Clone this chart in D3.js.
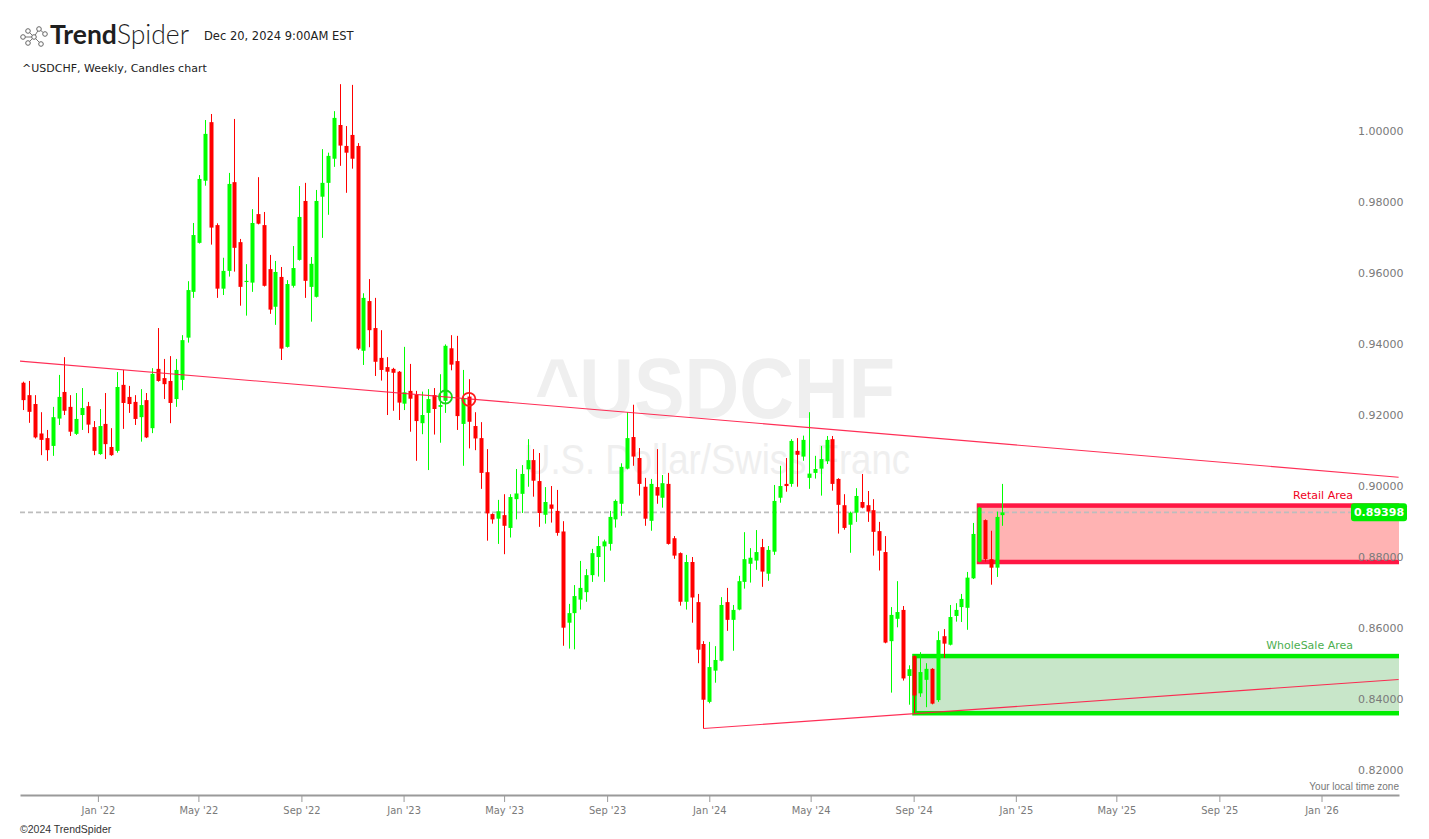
<!DOCTYPE html>
<html><head><meta charset="utf-8">
<script src="https://cdn.jsdelivr.net/npm/d3@7"></script>
<style>body{margin:0;background:#fff;} svg{display:block;}</style>
</head><body>
<svg id="chart" width="1429" height="839"></svg>
<script>
// ---------- DATA ----------
const firstWeek = "2021-10-04"; // weekly candles, one per week from this Monday
const openP = [.9305,.9270,.9245,.9162,.9149,.9127,.9204,.9279,.9237,.9161,
.9214,.9239,.9180,.9104,.9189,.9124,.9113,.9299,.9265,.9251,
.9208,.9256,.9177,.9344,.9318,.9310,.9259,.9313,.9432,.9561,
.9699,.9874,1.0039,.9749,.9570,.9620,.9870,.9701,.9589,.9587,
.9780,.9749,.9625,.9519,.9603,.9406,.9578,.9651,.9817,.9575,
.9547,.9829,.9868,.9936,1.0031,.9972,1.0003,.9972,.9395,.9535,
.9459,.9375,.9349,.9344,.9336,.9246,.9282,.9271,.9191,.9220,
.9270,.9237,.9254,.9402,.9366,.9189,.9266,.9183,.9149,.9053,
.8935,.8922,.8932,.8896,.8977,.8992,.9061,.9087,.9028,.8933,
.8962,.8944,.8886,.8629,.8656,.8694,.8715,.8763,.8814,.8844,
.8851,.8920,.8964,.9063,.9152,.9093,.9012,.8916,.9011,.8981,
.9020,.8867,.8825,.8688,.8800,.8687,.8569,.8406,.8494,.8522,
.8687,.8637,.8666,.8744,.8795,.8804,.8842,.8767,.8829,.8981,
.9020,.9020,.9113,.9097,.9037,.9051,.9063,.9084,.9146,.9034,
.8960,.8905,.8939,.8969,.8960,.8946,.8887,.8828,.8577,.8640,
.8665,.8479,.8535,.8430,.8468,.8499,.8411,.8591,.8567,.8648,
.8673,.8671,.8754,.8801,.8918,.8808,.8784,.8932];
const highP = [.9308,.9310,.9270,.9222,.9172,.9237,.9327,.9377,.9270,.9276,
.9290,.9251,.9197,.9231,.9276,.9177,.9335,.9341,.9296,.9270,
.9287,.9276,.9346,.9459,.9372,.9380,.9372,.9439,.9591,.9755,
.9890,1.0045,1.0062,.9754,.9657,.9896,1.0048,.9710,.9639,.9794,
.9884,.9786,.9665,.9648,.9631,.9594,.9690,.9859,.9868,.9659,
.9848,.9963,.9953,1.0070,1.0146,1.0028,1.0144,.9980,.9557,.9597,
.9544,.9453,.9377,.9347,.9338,.9406,.9358,.9282,.9280,.9287,
.9290,.9329,.9413,.9439,.9437,.9341,.9315,.9222,.9194,.9118,
.8937,.8975,.8991,.8991,.9062,.9073,.9146,.9118,.9107,.9011,
.9014,.9003,.8915,.8682,.8735,.8803,.8780,.8837,.8873,.8863,
.8944,.8976,.9078,.9222,.9243,.9121,.9037,.9034,.9118,.9045,
.9051,.8873,.8827,.8820,.8814,.8710,.8577,.8575,.8563,.8701,
.8727,.8679,.8761,.8884,.8839,.8890,.8865,.8845,.9017,.9071,
.9093,.9146,.9149,.9156,.9222,.9099,.9127,.9155,.9155,.9036,
.8991,.8942,.9008,.9048,.9000,.8977,.8913,.8873,.8673,.8746,
.8676,.8509,.8537,.8546,.8515,.8501,.8605,.8611,.8679,.8684,
.8710,.8772,.8910,.8955,.8920,.8888,.8942,.9020];
const lowP = [.9228,.9192,.9148,.9101,.9085,.9099,.9186,.9214,.9155,.9158,
.9172,.9163,.9101,.9102,.9090,.9099,.9108,.9175,.9220,.9186,
.9139,.9149,.9163,.9308,.9259,.9191,.9237,.9284,.9418,.9544,
.9697,.9860,.9694,.9544,.9552,.9604,.9618,.9522,.9494,.9561,
.9751,.9576,.9499,.9468,.9369,.9404,.9573,.9649,.9544,.9477,
.9545,.9713,.9778,.9913,.9916,.9840,.9908,.9397,.9355,.9405,
.9324,.9311,.9214,.9226,.9200,.9228,.9167,.9085,.9160,.9059,
.9159,.9136,.9220,.9340,.9172,.9071,.9120,.9115,.9006,.8860,
.8908,.8851,.8822,.8869,.8920,.8938,.9012,.8984,.8899,.8908,
.8911,.8874,.8564,.8556,.8554,.8666,.8688,.8744,.8759,.8744,
.8832,.8897,.8930,.9061,.9071,.8987,.8902,.8888,.8964,.8953,
.8849,.8809,.8677,.8666,.8629,.8515,.8331,.8402,.8460,.8520,
.8606,.8550,.8664,.8725,.8742,.8778,.8730,.8747,.8820,.8967,
.8998,.9012,.9012,.9085,.9006,.9035,.8987,.9076,.9001,.8880,
.8891,.8826,.8913,.8951,.8913,.8818,.8776,.8571,.8432,.8616,
.8466,.8398,.8374,.8420,.8391,.8399,.8406,.8530,.8565,.8632,
.8631,.8609,.8752,.8799,.8801,.8736,.8758,.8902];
const closeP = [.9256,.9223,.9151,.9144,.9115,.9208,.9265,.9226,.9167,.9203,
.9234,.9187,.9113,.9183,.9132,.9101,.9293,.9248,.9245,.9203,
.9242,.9151,.9330,.9310,.9301,.9248,.9341,.9425,.9566,.9721,
.9879,1.0006,.9742,.9570,.9620,.9865,.9685,.9575,.9592,.9755,
.9753,.9578,.9511,.9617,.9401,.9583,.9628,.9772,.9592,.9640,
.9817,.9868,.9944,1.0051,.9973,.9953,.9936,.9401,.9544,.9453,
.9364,.9341,.9336,.9333,.9249,.9278,.9260,.9197,.9214,.9259,
.9231,.9242,.9409,.9356,.9211,.9261,.9195,.9148,.9051,.8937,
.8920,.8943,.8902,.8983,.8993,.9048,.9087,.9029,.8938,.8969,
.8950,.8882,.8615,.8656,.8704,.8727,.8763,.8825,.8845,.8858,
.8927,.8972,.9068,.9149,.9097,.9020,.8922,.9020,.8987,.9022,
.8851,.8818,.8688,.8800,.8700,.8553,.8412,.8504,.8524,.8679,
.8637,.8665,.8746,.8808,.8812,.8828,.8773,.8834,.8972,.9014,
.9014,.9141,.9102,.9144,.9049,.9062,.9090,.9144,.9020,.8961,
.8896,.8939,.8986,.8953,.8942,.8885,.8832,.8573,.8651,.8659,
.8472,.8498,.8424,.8490,.8499,.8401,.8580,.8570,.8645,.8665,
.8696,.8756,.8879,.8953,.8808,.8784,.8927,.89398];

const yTickValues = [0.82,0.84,0.86,0.88,0.90,0.92,0.94,0.96,0.98,1.00];
const lastPrice = 0.89398;
const resistanceLine = [{date:"2021-09-30", value:0.93659},{date:"2026-04-03", value:0.90389}];
const supportLine = [{date:"2023-12-25", value:0.8331},{date:"2026-04-03", value:0.8469}];
const signals = [{date:"2023-02-20", value:0.92648, color:"#19d419"},{date:"2023-03-20", value:0.92583, color:"#ff1a1a"}];
const zones = [
  {name:"Retail Area", start:"2024-11-18", top:0.8959, bottom:0.8800, stroke:"#ff1744", fill:"#ffb3b3", labelColor:"#f0001c"},
  {name:"WholeSale Area", start:"2024-09-02", top:0.8535, bottom:0.8374, stroke:"#00ee00", fill:"#c8e6c9", labelColor:"#4caf50"}
];
const xDomain = ["2021-09-30", "2026-04-03"];

// ---------- CHART ----------
const parse = d3.utcParse("%Y-%m-%d");
const svg = d3.select("#chart");
const L = 20, R = 1399, T = 80, B = 795;

const x = d3.scaleUtc().domain([parse(xDomain[0]), d3.utcHour.offset(parse(xDomain[1]), 12)]).range([L, R]);
const y = d3.scaleLinear().domain([0.82, 1.0]).range([775, 136]);

const start = parse(firstWeek);
const candles = openP.map((o, i) => ({
  date: d3.utcDay.offset(start, 7 * i), open: o, high: highP[i], low: lowP[i], close: closeP[i]
}));

svg.append("defs").append("clipPath").attr("id", "plotclip")
  .append("rect").attr("x", L).attr("y", T).attr("width", R - L).attr("height", B - T);

// watermark
const wm = svg.append("g").attr("fill", "#efefef");
wm.append("text").attr("x", 715).attr("y", 418).attr("text-anchor", "middle")
  .attr("font-family", "Liberation Sans, Arial, sans-serif").attr("font-weight", "bold").attr("font-size", 86)
  .attr("textLength", 360).attr("lengthAdjust", "spacingAndGlyphs").text("^USDCHF");
wm.append("text").attr("x", 717).attr("y", 474).attr("text-anchor", "middle")
  .attr("font-family", "Liberation Sans, Arial, sans-serif").attr("font-size", 42)
  .attr("textLength", 386).attr("lengthAdjust", "spacingAndGlyphs").text("U.S. Dollar/Swiss Franc");

const plot = svg.append("g").attr("clip-path", "url(#plotclip)");

// zones
zones.forEach(z => {
  const x0 = x(parse(z.start));
  plot.append("rect").attr("x", x0).attr("y", y(z.top)).attr("width", R + 20 - x0)
    .attr("height", y(z.bottom) - y(z.top)).attr("fill", z.fill)
    .attr("stroke", z.stroke).attr("stroke-width", 4.5);
  svg.append("text").attr("x", 1353).attr("y", y(z.top) - 7).attr("text-anchor", "end")
    .attr("font-family", "DejaVu Sans, sans-serif").attr("font-size", 11).attr("fill", z.labelColor).text(z.name);
});

// last price dashed line
plot.append("line").attr("x1", L).attr("x2", 1351).attr("y1", y(lastPrice)).attr("y2", y(lastPrice))
  .attr("stroke", "#bdbdbd").attr("stroke-width", 1.6).attr("stroke-dasharray", "5,3");

// candles
const cg = plot.append("g");
const up = "#00ff00", down = "#ff0000";
cg.selectAll("line.wick").data(candles).join("line").attr("class", "wick")
  .attr("x1", d => Math.round(x(d.date)) + 0.5).attr("x2", d => Math.round(x(d.date)) + 0.5)
  .attr("y1", d => y(d.high)).attr("y2", d => y(d.low))
  .attr("stroke", d => d.close >= d.open ? up : down).attr("stroke-width", 1);
cg.selectAll("rect.body").data(candles).join("rect").attr("class", "body")
  .attr("x", d => Math.round(x(d.date)) - 1.5).attr("width", 4)
  .attr("y", d => y(Math.max(d.open, d.close)))
  .attr("height", d => Math.max(1.2, Math.abs(y(d.open) - y(d.close))))
  .attr("fill", d => d.close >= d.open ? up : down);

// trend lines
const lineGen = d3.line().x(d => x(parse(d.date))).y(d => y(d.value));
[resistanceLine, supportLine].forEach(ln => {
  plot.append("path").datum(ln).attr("d", lineGen).attr("fill", "none")
    .attr("stroke", "#ff1744").attr("stroke-width", 1.1).attr("opacity", 0.9);
});

// signal circles
plot.selectAll("circle.sig").data(signals).join("circle").attr("class", "sig")
  .attr("cx", d => x(parse(d.date))).attr("cy", d => y(d.value)).attr("r", 6.5)
  .attr("fill", "none").attr("stroke", d => d.color).attr("stroke-width", 1.8);

// price label
const pl = svg.append("g").attr("transform", `translate(1351,${y(lastPrice)})`);
pl.append("rect").attr("x", 0).attr("y", -9).attr("width", 56).attr("height", 18).attr("rx", 3).attr("fill", "#00ee00");
pl.append("text").attr("x", 28).attr("y", 0).attr("dy", "0.35em").attr("text-anchor", "middle")
  .attr("font-family", "DejaVu Sans, sans-serif").attr("font-size", 11).attr("font-weight", "bold")
  .attr("fill", "#fff").text(d3.format(".5f")(lastPrice));

// y axis (labels only)
const yAxis = svg.append("g").attr("transform", "translate(1358,0)")
  .call(d3.axisRight(y).tickValues(yTickValues).tickFormat(d3.format(".5f")).tickSize(0).tickPadding(0));
yAxis.select(".domain").remove();
yAxis.selectAll("text").attr("y", -5).attr("font-family", "DejaVu Sans, sans-serif").attr("font-size", 11).attr("fill", "#7a7a7a");

// x axis
const xAxis = svg.append("g").attr("transform", `translate(0,${B})`)
  .call(d3.axisBottom(x).ticks(d3.utcMonth.every(4)).tickFormat(d3.utcFormat("%b '%y")).tickSizeInner(7).tickSizeOuter(0).tickPadding(4));
xAxis.select(".domain").attr("stroke", "#9a9a9a").attr("stroke-width", 2);
xAxis.selectAll(".tick line").attr("stroke", "#9a9a9a");
xAxis.selectAll("text").attr("font-family", "Liberation Sans Narrow, DejaVu Sans Condensed, Arial Narrow, sans-serif")
  .attr("font-stretch", "condensed").attr("font-size", 11).attr("fill", "#7a7a7a");

svg.append("text").attr("x", 1399).attr("y", 790).attr("text-anchor", "end")
  .attr("font-family", "Liberation Sans Narrow, Liberation Sans, sans-serif").attr("font-size", 10).attr("fill", "#777")
  .text("Your local time zone");

// header
const logo = svg.append("g").attr("transform", "translate(20,24)");
const nodes = [[3,13],[8,7],[8,19],[14,13],[19,5],[21,20],[25,10]];
const links = [[0,3],[1,3],[2,3],[3,4],[3,5],[4,6]];
logo.selectAll("line").data(links).join("line")
  .attr("x1", d => nodes[d[0]][0]).attr("y1", d => nodes[d[0]][1])
  .attr("x2", d => nodes[d[1]][0]).attr("y2", d => nodes[d[1]][1]).attr("stroke", "#777").attr("stroke-width", 1);
logo.selectAll("circle").data(nodes).join("circle").attr("cx", d => d[0]).attr("cy", d => d[1]).attr("r", 2.3)
  .attr("fill", "#fff").attr("stroke", "#666").attr("stroke-width", 1);
const brand = svg.append("text").attr("x", 50).attr("y", 44).attr("font-family", "Lato, Open Sans, sans-serif")
  .attr("font-size", 26.5).attr("fill", "#1f1f1f");
brand.append("tspan").attr("font-weight", 700).text("Trend");
brand.append("tspan").attr("font-weight", 300).text("Spider");
svg.append("text").attr("x", 204).attr("y", 40).attr("font-family", "DejaVu Sans, sans-serif").attr("font-size", 11.5)
  .attr("fill", "#222").text("Dec 20, 2024 9:00AM EST");
svg.append("text").attr("x", 22).attr("y", 72).attr("font-family", "DejaVu Sans, sans-serif").attr("font-size", 11)
  .attr("fill", "#222").text("^USDCHF, Weekly, Candles chart");
svg.append("text").attr("x", 20).attr("y", 833).attr("font-family", "Liberation Sans Narrow, Liberation Sans, sans-serif")
  .attr("font-size", 10.5).attr("fill", "#333").text("©2024 TrendSpider");
</script>
</body></html>
